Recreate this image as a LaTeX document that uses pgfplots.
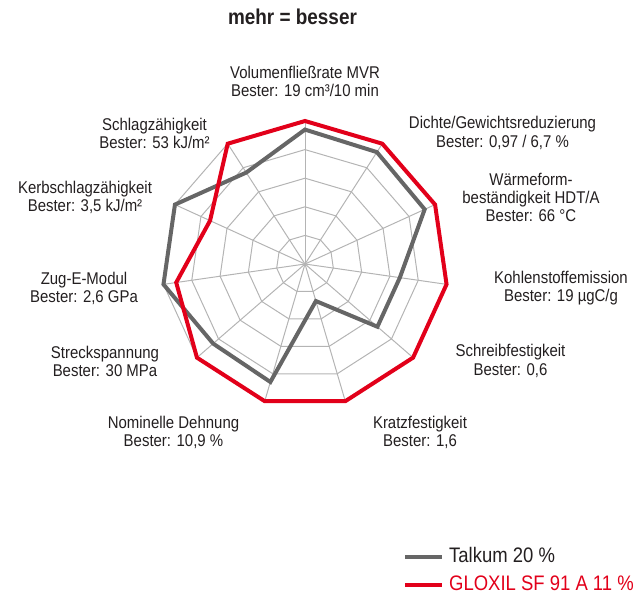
\documentclass[border=0pt]{standalone}
\usepackage{fontspec}
\setmainfont{Liberation Sans}[FakeStretch=0.88]
\usepackage{pgfplots}
\pgfplotsset{compat=1.18}
\definecolor{myred}{RGB}{226,0,26}
\definecolor{mygray}{RGB}{102,102,102}
\definecolor{gridgray}{RGB}{180,180,180}
\definecolor{txt}{RGB}{35,31,32}
\begin{document}
\begin{tikzpicture}[x=1pt,y=1pt]
\useasboundingbox (0,0) rectangle (642,595);
\begin{axis}[
  at={(0pt,0pt)}, anchor=south west, scale only axis,
  width=642pt, height=595pt,
  xmin=-213.29, xmax=235.66, ymin=-231.47, ymax=184.62,
  hide axis, clip=false,
  legend image code/.code={\draw[#1] (0pt,0pt) -- (37pt,0pt);},
  legend cell align=left,
  legend style={at={(0.6277,0.0824)}, anchor=north west, draw=none, fill=none,
    inner sep=0pt, row sep=7pt, font=\fontsize{21}{25}\selectfont,
    nodes={inner sep=0pt, text height=16pt, text depth=5pt, text=txt},
    /tikz/every odd column/.append style={column sep=5pt}},
]
% polygonal grid rings
\pgfplotsinvokeforeach{20,40,60,80,100}{
  \addplot[gridgray, line width=1pt, data cs=polar, forget plot] coordinates {
    (90,#1) (57.273,#1) (24.545,#1) (-8.182,#1) (-40.909,#1) (-73.636,#1)
    (-106.364,#1) (-139.091,#1) (-171.818,#1) (-204.545,#1) (-237.273,#1)} -- cycle;
}
% spokes
\pgfplotsinvokeforeach{90,57.273,24.545,-8.182,-40.909,-73.636,-106.364,-139.091,-171.818,-204.545,-237.273}{
  \addplot[gridgray, line width=1pt, data cs=polar, forget plot] coordinates {(0,0) (#1,100)};
}
% Talkum 20 %
\addplot[mygray, line width=4pt, line join=miter, data cs=polar] coordinates {
  (90,94) (57.273,93) (24.545,92) (-8.182,67) (-40.909,67) (-73.636,27)
  (-106.364,86) (-139.091,85) (-171.818,100) (-204.545,100) (-237.273,76)} -- cycle;
\addlegendentry{Talkum 20 \%}
% GLOXIL SF 91 A 11 %
\addplot[myred, line width=4pt, line join=miter, data cs=polar] coordinates {
  (90,100) (57.273,100) (24.545,100) (-8.182,100) (-40.909,100) (-73.636,100)
  (-106.364,100) (-139.091,100) (-171.818,91) (-204.545,73) (-237.273,100)} -- cycle;
\addlegendentry{\textcolor{myred}{GLOXIL SF 91 A 11 \%}}
\end{axis}
\node[font=\bfseries\fontsize{21.5}{24}\selectfont, text=txt] at (292.5,578) {mehr = besser};
\tikzset{lab/.style={font=\fontsize{17}{18.3}\selectfont, text=txt, align=center, inner sep=0pt}}
\node[lab] at (305,513.3) {Volumenfließrate MVR\\Bester: 19 cm³/10 min};
\node[lab] at (502.5,462) {Dichte/Gewichtsreduzierung\\Bester: 0,97 / 6,7 \%};
\node[lab] at (531,397.7) {Wärmeform-\\beständigkeit HDT/A\\Bester: 66 °C};
\node[lab] at (561,306.7) {Kohlenstoffemission\\Bester: 19 µgC/g};
\node[lab] at (510.5,234) {Schreibfestigkeit\\Bester: 0,6};
\node[lab] at (420,162.5) {Kratzfestigkeit\\Bester: 1,6};
\node[lab] at (173.5,162.5) {Nominelle Dehnung\\Bester: 10,9 \%};
\node[lab] at (105,233.5) {Streckspannung\\Bester: 30 MPa};
\node[lab] at (84,306.7) {Zug-E-Modul\\Bester: 2,6 GPa};
\node[lab] at (85,397.7) {Kerbschlagzähigkeit\\Bester: 3,5 kJ/m²};
\node[lab] at (154.5,461.7) {Schlagzähigkeit\\Bester: 53 kJ/m²};
\end{tikzpicture}
\end{document}
